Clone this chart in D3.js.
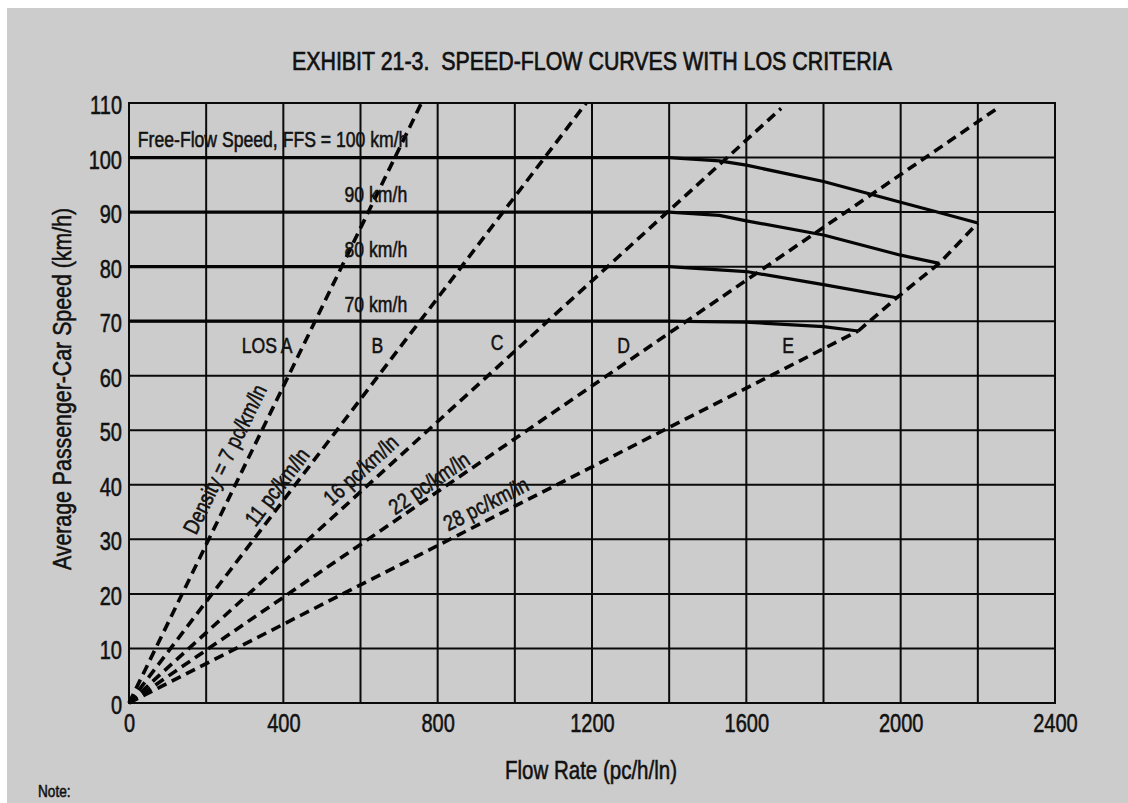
<!DOCTYPE html>
<html><head><meta charset="utf-8">
<script src="https://cdn.jsdelivr.net/npm/d3@7"></script>
<style>
html,body{margin:0;padding:0;background:#fff;}
svg{display:block;}
text{font-family:"Liberation Sans",Arial,sans-serif;fill:#111;white-space:pre;}
</style></head><body>
<svg id="chart" width="1128" height="803"></svg>
<script>
// ---------- data ----------
const xTicks = [0, 400, 800, 1200, 1600, 2000, 2400];
const xGrid = [0, 200, 400, 600, 800, 1000, 1200, 1400, 1600, 1800, 2000, 2200, 2400];
const yTicks = [0, 10, 20, 30, 40, 50, 60, 70, 80, 90, 100, 110];

const ffs100 = [[0,100],[1400,100],[1530,99.4],[1600,98.6],[1800,95.6],[2000,91.8],[2085,90.2],[2200,88.0]];
const ffs90  = [[0,90],[1400,90],[1530,89.4],[1600,88.4],[1800,85.8],[2000,82.1],[2100,80.6]];
const ffs80  = [[0,80],[1400,80],[1600,79.1],[1800,76.7],[1990,74.3]];
const ffs70  = [[0,70],[1400,70],[1600,69.8],[1800,69.0],[1890,68.2]];

const densityNames = ["Density = 7 pc/km/ln", "11 pc/km/ln", "16 pc/km/ln", "22 pc/km/ln", "28 pc/km/ln"];
const densityEnds  = [[758,110],[1185,110],[1690,109],[2250,109],[1890,68.2]];
const capacityLine = [[1890,68.2],[1990,74.3],[2100,80.6],[2200,88.0]];

const curveLabels = ["Free-Flow Speed, FFS = 100 km/h", "90 km/h", "80 km/h", "70 km/h"];
const losLetters  = ["LOS A", "B", "C", "D", "E"];

const titleText = "EXHIBIT 21-3.  SPEED-FLOW CURVES WITH LOS CRITERIA";
const xTitle = "Flow Rate (pc/h/ln)";
const yTitle = "Average Passenger-Car Speed (km/h)";
const noteText = "Note:";

// ---------- layout (annotation anchors in data units) ----------
const densityLabelAt = [[249,44.7],[384,39.6],[601,42.7],[778,40.3],[925,36.5]];
const curveLabelAt   = [[23,101.9,"start"],[721,91.85,"end"],[721,81.8,"end"],[721,71.7,"end"]];
const losLabelAt     = [[358,64.2],[644,64.2],[954,64.8],[1282,64.2],[1708,64.2]];

// ---------- drawing ----------
const svg = d3.select("#chart");
svg.append("rect").attr("x",7).attr("y",8).attr("width",1121).attr("height",795).attr("fill","#cccccc");

const x = d3.scaleLinear().domain([0,2400]).range([129,1055]);
const y = d3.scaleLinear().domain([0,110]).range([703,103]);

// condense text horizontally (Helvetica Condensed look)
function narrow(sel, f) {
  sel.each(function(){
    const len = this.getComputedTextLength();
    d3.select(this).attr("textLength", len*f).attr("lengthAdjust","spacingAndGlyphs");
  });
}
function ink(sel, w){ sel.attr("stroke","#111").attr("stroke-width",w||0.55); }

// grid
const grid = svg.append("g").attr("stroke","#0a0a0a").attr("stroke-width",2);
grid.selectAll("line.v").data(xGrid).join("line").attr("class","v")
  .attr("x1",d=>x(d)).attr("x2",d=>x(d)).attr("y1",y(0)+1).attr("y2",y(110)-1);
grid.selectAll("line.h").data(yTicks).join("line").attr("class","h")
  .attr("y1",d=>y(d)).attr("y2",d=>y(d)).attr("x1",x(0)-1).attr("x2",x(2400)+1);

// axes labels
const fontFam = '"Liberation Sans",Arial,sans-serif';
const gx = svg.append("g").attr("transform",`translate(0,${y(0)})`)
  .call(d3.axisBottom(x).tickValues(xTicks).tickSize(0).tickPadding(11).tickFormat(d3.format("d")));
gx.select(".domain").remove();
gx.attr("font-size",25).attr("font-family",fontFam);
gx.selectAll("text").attr("fill","#111").call(narrow,0.8).call(ink);

const gy = svg.append("g").attr("transform",`translate(${x(0)},0)`)
  .call(d3.axisLeft(y).tickValues(yTicks).tickSize(0).tickPadding(7).tickFormat(d3.format("d")));
gy.select(".domain").remove();
gy.attr("font-size",25).attr("font-family",fontFam);
gy.selectAll("text").attr("fill","#111").attr("dy","0.42em").call(narrow,0.8).call(ink);

// density lines
const line = d3.line().x(d=>x(d[0])).y(d=>y(d[1]));
const dashed = svg.append("g").attr("fill","none").attr("stroke","#050505")
  .attr("stroke-width",3.6).attr("stroke-dasharray","10,6");
dashed.selectAll("path.d").data(densityEnds).join("path").attr("class","d")
  .attr("d",d=>line([[0,0],d]));
dashed.append("path").attr("d",line(capacityLine));

// speed-flow curves
const curves = svg.append("g").attr("fill","none").attr("stroke","#050505")
  .attr("stroke-width",3.2).attr("stroke-linejoin","round");
[ffs100, ffs90, ffs80, ffs70].forEach(c=>curves.append("path").attr("d",line(c)));

// curve labels
svg.append("g").attr("font-size",22).selectAll("text").data(curveLabels).join("text")
  .attr("x",(d,i)=>x(curveLabelAt[i][0])).attr("y",(d,i)=>y(curveLabelAt[i][1]))
  .attr("text-anchor",(d,i)=>curveLabelAt[i][2]).text(d=>d).call(narrow,0.8).call(ink);

// LOS letters
svg.append("g").attr("font-size",22).selectAll("text").data(losLetters).join("text")
  .attr("x",(d,i)=>x(losLabelAt[i][0])).attr("y",(d,i)=>y(losLabelAt[i][1]))
  .attr("text-anchor","middle").text(d=>d).call(narrow,0.8).call(ink);

// density labels, rotated along their lines
svg.append("g").attr("font-size",22).selectAll("text").data(densityNames).join("text")
  .attr("text-anchor","middle").attr("dominant-baseline","central")
  .attr("transform",(d,i)=>{
    const e = densityEnds[i];
    const ang = Math.atan2(y(e[1])-y(0), x(e[0])-x(0))*180/Math.PI;
    return `translate(${x(densityLabelAt[i][0])},${y(densityLabelAt[i][1])}) rotate(${ang})`;
  }).text(d=>d).call(narrow,0.82).call(ink);

// titles
const t = svg.append("text").attr("x",292).attr("y",70).attr("font-size",26).text(titleText);
t.attr("textLength",600).attr("lengthAdjust","spacingAndGlyphs").call(ink,0.7);

svg.append("text").attr("x",591).attr("y",779).attr("text-anchor","middle").attr("font-size",25)
  .text(xTitle).call(narrow,0.82).call(ink);
svg.append("text").attr("transform","translate(62,389) rotate(-90)").attr("text-anchor","middle")
  .attr("dominant-baseline","central").attr("font-size",26).text(yTitle).call(narrow,0.82).call(ink);

svg.append("text").attr("x",38).attr("y",797).attr("font-size",16).text(noteText).call(narrow,0.85).call(ink);
</script>
</body></html>
